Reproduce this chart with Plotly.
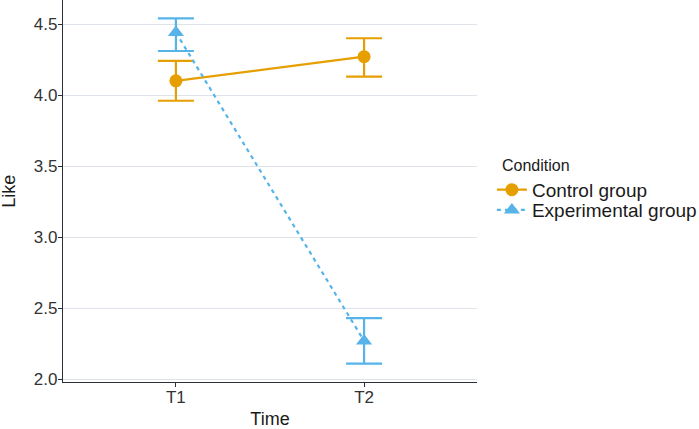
import plotly.graph_objects as go

times = ["T1", "T2"]
control_mean = [4.10, 4.27]
control_upper = [4.24, 4.40]
control_lower = [3.96, 4.13]
exp_mean = [4.44, 2.27]
exp_upper = [4.54, 2.43]
exp_lower = [4.31, 2.11]
y_ticks = [2.0, 2.5, 3.0, 3.5, 4.0, 4.5]

orange = "#E69F00"
blue = "#56B4E9"


def err(mean, upper, lower):
    plus = [u - m for u, m in zip(upper, mean)]
    minus = [m - l for m, l in zip(mean, lower)]
    return plus, minus


fig = go.Figure()

cp, cm = err(control_mean, control_upper, control_lower)
fig.add_trace(go.Scatter(
    x=[1, 2], y=control_mean, name="Control group", mode="lines+markers",
    line=dict(color=orange, width=2.2),
    marker=dict(symbol="circle", size=13, color=orange),
    error_y=dict(type="data", array=cp, arrayminus=cm, color=orange,
                 thickness=2.2, width=18),
    legend="legend",
))

ep, em = err(exp_mean, exp_upper, exp_lower)
fig.add_trace(go.Scatter(
    x=[1, 2], y=exp_mean, name="Experimental group", mode="lines+markers",
    line=dict(color=blue, width=2.2, dash="4px,4px"),
    marker=dict(symbol="triangle-up", size=14, color=blue),
    error_y=dict(type="data", array=ep, arrayminus=em, color=blue,
                 thickness=2.2, width=18),
    legend="legend2",
))

# two legends so the rows can sit as close together as in the ggplot key
legend_common = dict(x=1.036, xanchor="left", yanchor="middle",
                     font=dict(size=19), itemwidth=30,
                     bgcolor="rgba(0,0,0,0)")

fig.update_layout(
    width=699, height=429,
    margin=dict(l=63, r=222, t=0, b=47, autoexpand=False),
    plot_bgcolor="white", paper_bgcolor="white",
    font=dict(family="Liberation Sans, Arial, sans-serif", size=17, color="#1a1a1a"),
    showlegend=True,
    legend=dict(y=0.503, **legend_common),
    legend2=dict(y=0.450, **legend_common),
    annotations=[
        dict(text="Condition", xref="paper", yref="paper",
             x=1.056, y=0.568, xanchor="left", yanchor="middle",
             showarrow=False, font=dict(size=16)),
        # y title sits further left than plotly's standoff allows
        dict(text="Like", xref="paper", yref="paper", textangle=-90,
             x=-0.131, y=0.5, xanchor="center", yanchor="middle",
             showarrow=False, font=dict(size=18)),
    ],
    xaxis=dict(
        range=[0.4, 2.6], tickvals=[1, 2], ticktext=times,
        showgrid=False, zeroline=False,
        showline=True, linecolor="#2b2f3a", linewidth=1.3,
        ticks="outside", ticklen=4, tickcolor="#2b2f3a",
        tickfont=dict(size=17, color="#333333"), ticklabelstandoff=-5,
        title=dict(text="Time", font=dict(size=18), standoff=12),
    ),
    yaxis=dict(
        range=[1.981, 4.669], tickvals=y_ticks,
        ticktext=[f"{v:.1f}" for v in y_ticks],
        showgrid=True, gridcolor="#dde3e8", gridwidth=1.3, zeroline=False,
        showline=True, linecolor="#2b2f3a", linewidth=1.3,
        ticks="outside", ticklen=4, tickcolor="#2b2f3a",
        tickfont=dict(size=17, color="#333333"), ticklabelstandoff=-3,
    ),
)

# drop the browser's default 8px body margin so the figure fills the window
fig.write_html("out.html", config={"displayModeBar": False},
               post_script="document.body.style.margin='0px';")
